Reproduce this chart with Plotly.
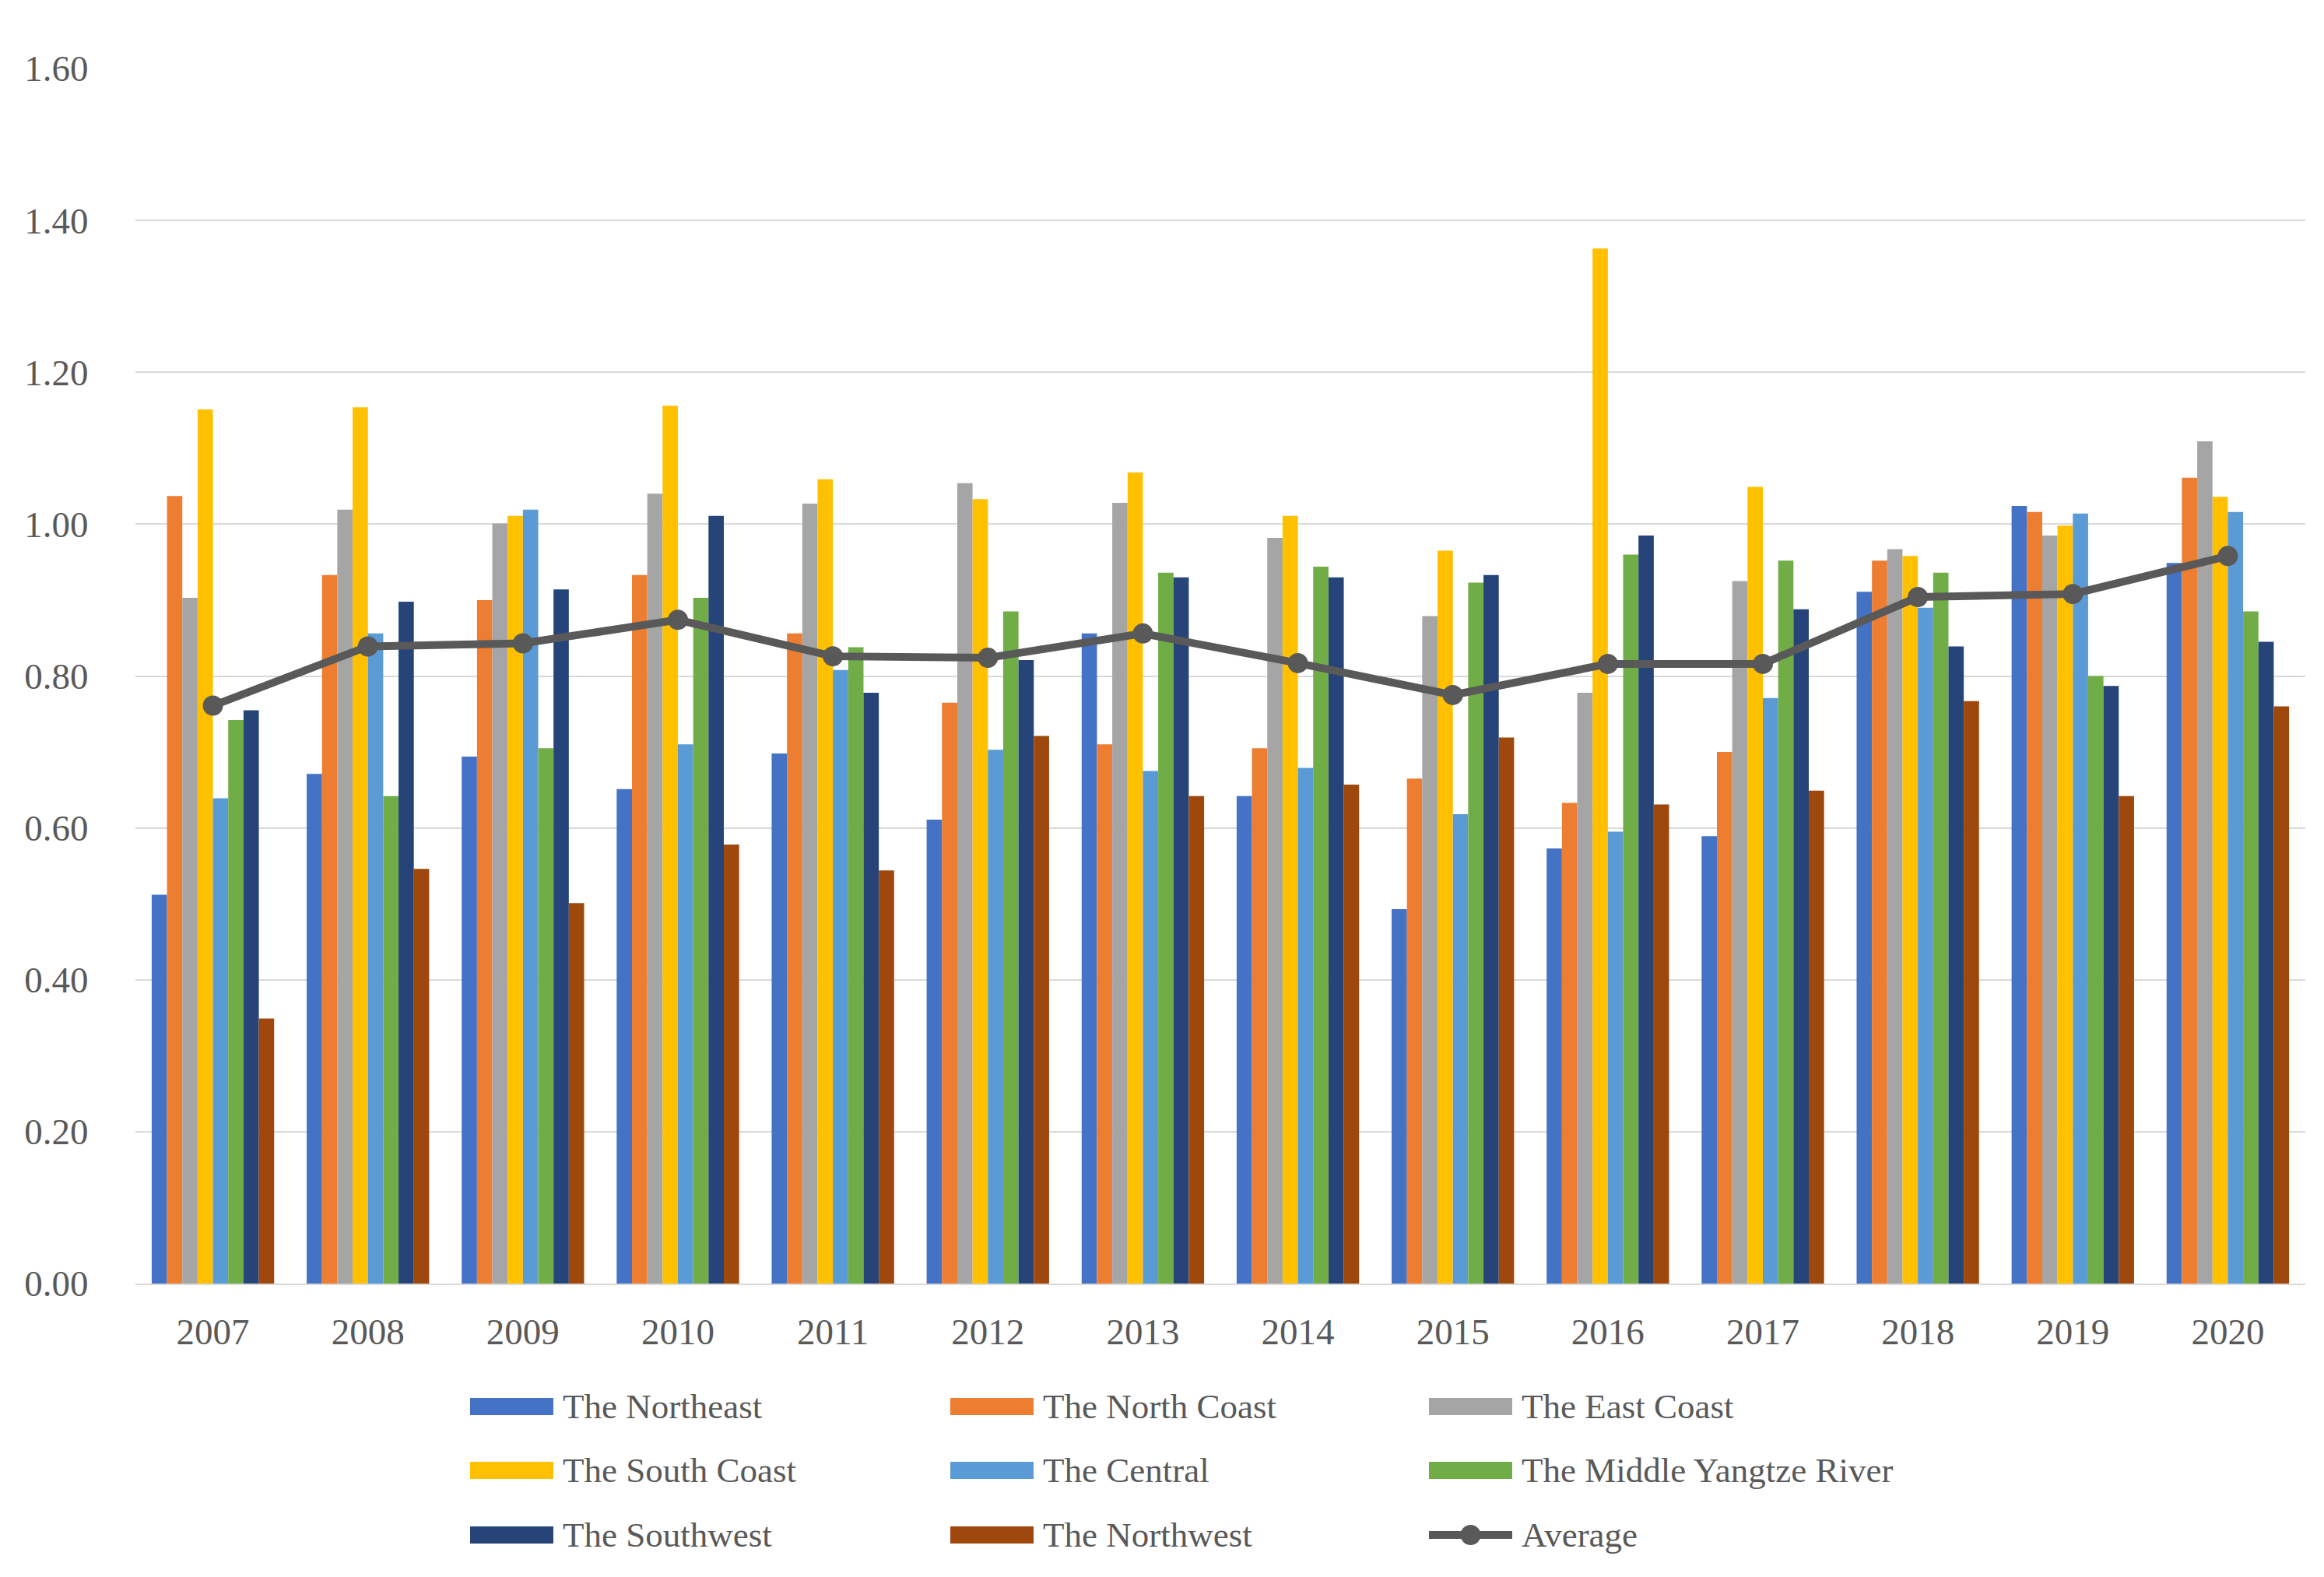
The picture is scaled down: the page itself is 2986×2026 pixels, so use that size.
import plotly.graph_objects as go

years = ["2007", "2008", "2009", "2010", "2011", "2012", "2013", "2014",
         "2015", "2016", "2017", "2018", "2019", "2020"]

northeast = [0.512, 0.671, 0.694, 0.651, 0.698, 0.611, 0.856, 0.642, 0.493, 0.573, 0.589, 0.911, 1.024, 0.949]
north_coast = [1.037, 0.933, 0.900, 0.933, 0.856, 0.765, 0.710, 0.705, 0.665, 0.633, 0.700, 0.952, 1.016, 1.061]
east_coast = [0.903, 1.019, 1.001, 1.040, 1.027, 1.054, 1.028, 0.982, 0.879, 0.778, 0.925, 0.967, 0.985, 1.109]
south_coast = [1.151, 1.154, 1.011, 1.156, 1.059, 1.033, 1.068, 1.011, 0.965, 1.363, 1.049, 0.958, 0.998, 1.036]
central = [0.639, 0.856, 1.019, 0.710, 0.808, 0.703, 0.675, 0.679, 0.618, 0.595, 0.771, 0.890, 1.014, 1.016]
middle_yangtze = [0.742, 0.642, 0.705, 0.903, 0.838, 0.885, 0.936, 0.944, 0.923, 0.960, 0.952, 0.936, 0.800, 0.885]
southwest = [0.755, 0.898, 0.914, 1.011, 0.778, 0.821, 0.930, 0.930, 0.933, 0.985, 0.888, 0.839, 0.787, 0.845]
northwest = [0.349, 0.546, 0.501, 0.578, 0.544, 0.721, 0.642, 0.657, 0.719, 0.631, 0.649, 0.767, 0.642, 0.760]
average = [0.761, 0.839, 0.843, 0.874, 0.826, 0.824, 0.856, 0.817, 0.775, 0.816, 0.816, 0.904, 0.908, 0.958]

y_ticks = [0.0, 0.2, 0.4, 0.6, 0.8, 1.0, 1.2, 1.4, 1.6]

series = [
    ("The Northeast", northeast, "#4472C4"),
    ("The North Coast", north_coast, "#ED7D31"),
    ("The East Coast", east_coast, "#A5A5A5"),
    ("The South Coast", south_coast, "#FFC000"),
    ("The Central", central, "#5B9BD5"),
    ("The Middle Yangtze River", middle_yangtze, "#70AD47"),
    ("The Southwest", southwest, "#264478"),
    ("The Northwest", northwest, "#9E480E"),
]
avg_color = "#595959"
text_color = "#595959"
FONT = "Liberation Serif"

fig = go.Figure()
for name, vals, col in series:
    fig.add_trace(go.Bar(x=years, y=vals, name=name, marker=dict(color=col, line=dict(width=0))))
fig.add_trace(go.Scatter(x=years, y=average, name="Average", mode="lines+markers",
                         line=dict(color=avg_color, width=10),
                         marker=dict(color=avg_color, size=26, symbol="circle")))

W, H = 2986, 2026
ml, mr, mt, mb = 166, 32, 80, 385

fig.update_layout(
    width=W, height=H,
    margin=dict(l=ml, r=mr, t=mt, b=mb),
    paper_bgcolor="white", plot_bgcolor="white",
    barmode="group", bargap=0.21, bargroupgap=0,
    showlegend=False,
    font=dict(family=FONT, size=46, color=text_color),
)
fig.update_xaxes(type="category", range=[-0.5, len(years) - 0.5], showgrid=False,
                 showline=True, linecolor="#d9d9d9", linewidth=2,
                 ticks="outside", ticklen=20, tickcolor="rgba(0,0,0,0)",
                 tickfont=dict(family=FONT, size=47, color=text_color))
fig.update_yaxes(range=[0, 1.6], tickvals=y_ticks, ticktext=[f"{v:.2f}" for v in y_ticks],
                 showgrid=True, gridcolor="#d9d9d9", gridwidth=2, zeroline=False, showline=False,
                 ticks="outside", ticklen=50, tickcolor="rgba(0,0,0,0)",
                 tickfont=dict(family=FONT, size=47, color=text_color))

# custom legend (3 columns x 3 rows), positions given in figure pixels
legend_names = [s[0] for s in series] + ["Average"]
legend_colors = [s[2] for s in series] + [avg_color]
col_sw = [596, 1213, 1828]
sw_w = 107
row_y = [1799, 1881, 1964]
pw = W - ml - mr
ph = H - mt - mb


def px_x(x):
    return (x - ml) / pw


def px_y(y):
    return ((H - y) - mb) / ph


shapes = []
anns = []
for i, (nm, col) in enumerate(zip(legend_names, legend_colors)):
    r, c = divmod(i, 3)
    xl = col_sw[c]
    xr = col_sw[c] + sw_w
    yc = row_y[r]
    if nm == "Average":
        shapes.append(dict(type="line", xref="paper", yref="paper", x0=px_x(xl), x1=px_x(xr),
                           y0=px_y(yc), y1=px_y(yc), line=dict(color=col, width=10)))
        cx = (xl + xr) / 2
        rad = 13
        shapes.append(dict(type="circle", xref="paper", yref="paper",
                           x0=px_x(cx - rad), x1=px_x(cx + rad), y0=px_y(yc + rad), y1=px_y(yc - rad),
                           fillcolor=col, line=dict(width=0)))
    else:
        hh = 11
        shapes.append(dict(type="rect", xref="paper", yref="paper", x0=px_x(xl), x1=px_x(xr),
                           y0=px_y(yc + hh), y1=px_y(yc - hh), fillcolor=col, line=dict(width=0)))
    anns.append(dict(xref="paper", yref="paper", x=px_x(xr + 10), y=px_y(yc),
                     text=nm, showarrow=False, xanchor="left", yanchor="middle",
                     font=dict(family=FONT, size=45, color=text_color)))

fig.update_layout(shapes=shapes, annotations=anns)

fig.write_html("out.html")
